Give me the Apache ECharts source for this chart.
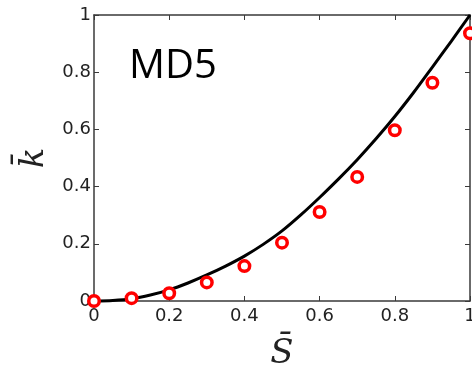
<!DOCTYPE html>
<html>
<head>
<meta charset="utf-8">
<script src="https://cdn.jsdelivr.net/npm/echarts@6/dist/echarts.min.js"></script>
<style>
  html, body { margin: 0; padding: 0; background: #fff; }
  #chart { width: 472px; height: 371px; }
</style>
</head>
<body>
<div id="chart"></div>
<script>
// model curve
const curveS = [0, 0.05, 0.1, 0.15, 0.2, 0.25, 0.3, 0.35, 0.4, 0.45, 0.5,
  0.55, 0.6, 0.65, 0.7, 0.75, 0.8, 0.85, 0.9, 0.95, 1];
const curveK = [0, 0.002, 0.008, 0.021, 0.039, 0.063, 0.091, 0.122, 0.157, 0.198, 0.245,
  0.301, 0.362, 0.426, 0.494, 0.567, 0.645, 0.729, 0.818, 0.908, 1.0];

// MD5 points (red circles)
const pointS = [0, 0.1, 0.2, 0.3, 0.4, 0.5, 0.6, 0.7, 0.8, 0.9, 1.0];
const pointK = [0, 0.01, 0.027, 0.065, 0.122, 0.204, 0.311, 0.434, 0.597, 0.763, 0.936];

const panelLabel = "MD5";

const chart = echarts.init(document.getElementById("chart"));

const frameColor = "#3a3a3a";
const tickFmt = (v) => (v === 0 ? "0" : v === 1 ? "1" : String(+v.toFixed(1)));

const baseAxis = {
  type: "value",
  min: 0,
  max: 1,
  interval: 0.2,
  axisLine: { show: true, onZero: false, lineStyle: { color: frameColor, width: 1.5 } },
  axisTick: { show: true, inside: true, length: 5, lineStyle: { color: frameColor, width: 1 } },
  splitLine: { show: false },
};

chart.setOption({
  animation: false,
  backgroundColor: "#fff",
  grid: { left: 94, right: 2, top: 15, bottom: 70, containLabel: false, outerBoundsMode: "none" },
  xAxis: [
    {
      ...baseAxis,
      position: "bottom",
      axisLabel: {
        color: "#222", fontSize: 18, fontFamily: "DejaVu Sans", margin: 6,
        formatter: tickFmt,
      },
      name: "S\u0304",
      nameLocation: "middle",
      nameGap: 36,
      nameTextStyle: { fontFamily: "DejaVu Serif", fontStyle: "italic", fontSize: 34, color: "#222" },
    },
    { ...baseAxis, position: "top", axisLabel: { show: false } },
  ],
  yAxis: [
    {
      ...baseAxis,
      position: "left",
      axisLabel: {
        color: "#222", fontSize: 18, fontFamily: "DejaVu Sans", margin: 3,
        formatter: tickFmt,
      },
      name: "k\u0304",
      nameLocation: "middle",
      nameGap: 40,
      nameRotate: 90,
      nameTextStyle: { fontFamily: "DejaVu Serif", fontStyle: "italic", fontSize: 34, color: "#222" },
    },
    { ...baseAxis, position: "right", axisLabel: { show: false } },
  ],
  graphic: [
    {
      type: "text",
      left: 129,
      top: 47,
      style: { text: panelLabel, fontSize: 40, fontFamily: "Open Sans", fill: "#000" },
    },
  ],
  series: [
    {
      type: "line",
      data: curveS.map((s, i) => [s, curveK[i]]),
      smooth: 0.3,
      showSymbol: false,
      lineStyle: { color: "#000", width: 3 },
      clip: false,
      z: 2,
    },
    {
      type: "scatter",
      data: pointS.map((s, i) => [s, pointK[i]]),
      symbol: "circle",
      symbolSize: 10.5,
      itemStyle: { color: "#fff", borderColor: "#ff0000", borderWidth: 3.5, opacity: 1 },
      clip: false,
      z: 3,
    },
  ],
});
</script>
</body>
</html>
